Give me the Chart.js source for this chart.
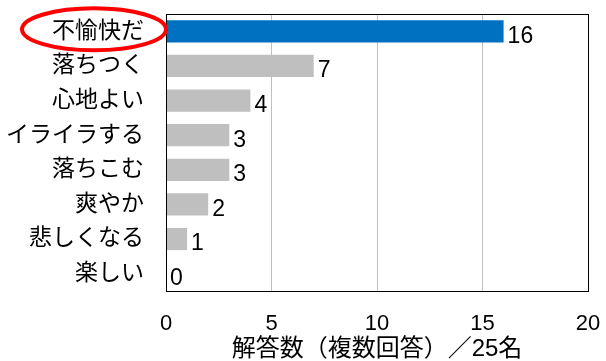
<!DOCTYPE html>
<html>
<head>
<meta charset="utf-8">
<script src="https://cdn.jsdelivr.net/npm/chart.js@4/dist/chart.umd.min.js"></script>
<style>
  html, body { margin: 0; padding: 0; background: #fff; }
</style>
</head>
<body>
<canvas id="feelChart" width="606" height="361"></canvas>
<script>
// answers per feeling (multiple answers allowed, 25 people)
const feelings = ['不愉快だ', '落ちつく', '心地よい', 'イライラする', '落ちこむ', '爽やか', '悲しくなる', '楽しい'];
const counts = [16, 7, 4, 3, 3, 2, 1, 0];
const xTicks = [0, 5, 10, 15, 20];
const axisTitle = '解答数（複数回答）／25名';

const FONT = '"Liberation Sans", Arial, "Noto Sans CJK JP", sans-serif';

// first bar highlighted in blue, the rest gray
const barColors = counts.map((v, i) => i === 0 ? '#0070c0' : '#bfbfbf');

// value labels at the end of each bar
const valueLabels = {
  id: 'valueLabels',
  afterDatasetsDraw(chart) {
    const ctx = chart.ctx;
    const meta = chart.getDatasetMeta(0);
    ctx.save();
    ctx.font = '23px ' + FONT;
    ctx.fillStyle = '#000';
    ctx.textAlign = 'left';
    ctx.textBaseline = 'middle';
    meta.data.forEach((bar, i) => {
      ctx.fillText(String(counts[i]), bar.x + 4, bar.y + 5);
    });
    ctx.restore();
  }
};

// black frame around the plot area
const plotFrame = {
  id: 'plotFrame',
  afterDatasetsDraw(chart) {
    const { ctx, chartArea: a } = chart;
    ctx.save();
    ctx.strokeStyle = '#000';
    ctx.lineWidth = 1;
    ctx.strokeRect(Math.round(a.left) + 0.5, Math.round(a.top) + 0.5,
      Math.round(a.right - a.left), Math.round(a.bottom - a.top));
    ctx.restore();
  }
};

// red ring around the first category label
const labelRing = {
  id: 'labelRing',
  afterDraw(chart) {
    const { ctx, chartArea: a } = chart;
    const cy = chart.scales.y.getPixelForTick(0) - 2;
    const rx = 72, ry = 21;
    ctx.save();
    ctx.strokeStyle = '#ff0000';
    ctx.lineWidth = 4;
    ctx.beginPath();
    ctx.ellipse(a.left - rx, cy, rx, ry, 0, 0, Math.PI * 2);
    ctx.stroke();
    ctx.restore();
  }
};

new Chart(document.getElementById('feelChart'), {
  type: 'bar',
  data: {
    labels: feelings,
    datasets: [{
      data: counts,
      backgroundColor: barColors,
      borderWidth: 0,
      categoryPercentage: 0.64,
      barPercentage: 1
    }]
  },
  options: {
    indexAxis: 'y',
    responsive: false,
    animation: false,
    layout: { padding: { top: 14, right: 18, left: 0, bottom: 0 } },
    plugins: {
      legend: { display: false },
      tooltip: { enabled: false }
    },
    scales: {
      x: {
        min: 0,
        max: 20,
        afterBuildTicks(scale) {
          scale.ticks = xTicks.map(v => ({ value: v }));
        },
        afterFit(scale) {
          scale.height = 70;
          scale.paddingLeft = 0;
          scale.paddingRight = 0;
        },
        grid: { color: '#c0c0c0', lineWidth: 1, drawTicks: false },
        border: { display: false },
        ticks: {
          color: '#000',
          padding: 20,
          font: { family: FONT, size: 22 }
        },
        title: {
          display: true,
          text: axisTitle,
          color: '#000',
          padding: { top: 0, bottom: 0 },
          font: { family: FONT, size: 24, lineHeight: 1 }
        }
      },
      y: {
        afterFit(scale) {
          scale.width = 166;
          scale.paddingTop = 0;
          scale.paddingBottom = 0;
        },
        grid: { display: false, drawTicks: false },
        border: { display: false },
        ticks: {
          color: '#000',
          padding: 22,
          font: { family: FONT, size: 23 }
        }
      }
    }
  },
  plugins: [valueLabels, plotFrame, labelRing]
});
</script>
</body>
</html>
